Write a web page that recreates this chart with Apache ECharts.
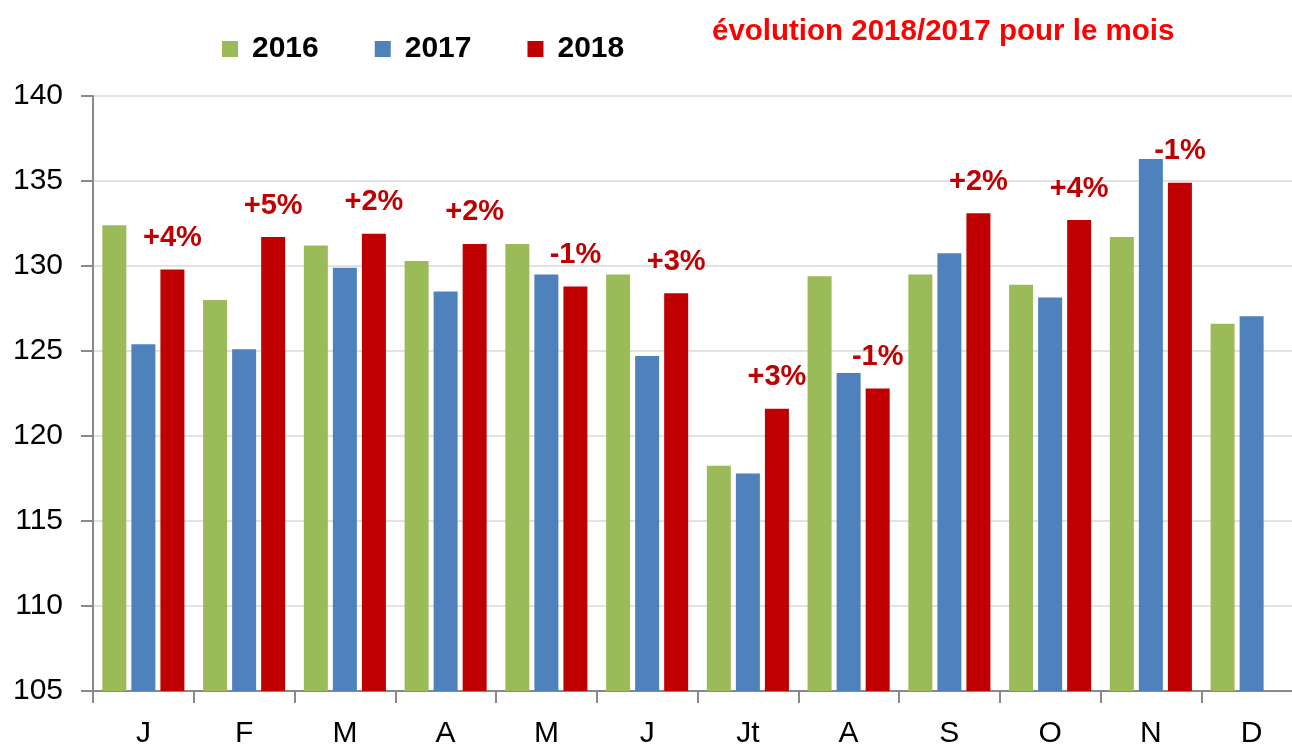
<!DOCTYPE html>
<html>
<head>
<meta charset="utf-8">
<script src="https://cdn.jsdelivr.net/npm/echarts@6/dist/echarts.min.js"></script>
<style>
html,body{margin:0;padding:0;background:#fff;overflow:hidden;}
#chart{width:1310px;height:745px;}
</style>
</head>
<body>
<div id="chart"></div>
<script>
const months = ['J','F','M','A','M','J','Jt','A','S','O','N','D'];
const seriesNames = ['2016','2017','2018'];
const v2016 = [132.4,128.0,131.2,130.3,131.3,129.5,118.25,129.4,129.5,128.9,131.7,126.6];
const v2017 = [125.4,125.1,129.9,128.5,129.5,124.7,117.8,123.7,130.75,128.15,136.3,127.05];
const v2018 = [129.8,131.7,131.9,131.3,128.8,128.4,121.6,122.8,133.1,132.7,134.9,null];
const evolutionLabels = ['+4%','+5%','+2%','+2%','-1%','+3%','+3%','-1%','+2%','+4%','-1%',''];
const yMin = 105, yMax = 140, yStep = 5;
const titleText = 'évolution 2018/2017 pour le mois';

const chart = echarts.init(document.getElementById('chart'), null, {renderer:'canvas'});
const font = '"Liberation Sans", Arial, sans-serif';
chart.setOption({
  animation: false,
  backgroundColor: '#ffffff',
  title: {
    text: titleText,
    left: 707, top: 12,
    textStyle: {color:'#ff0000', fontFamily: font, fontWeight:'bold', fontSize: 29.5}
  },
  legend: {
    left: 217, top: 29,
    itemWidth: 16, itemHeight: 16, itemGap: 56,
    icon: 'rect',
    data: seriesNames,
    textStyle: {color:'#000', fontFamily: font, fontWeight:'bold', fontSize: 30, padding:[0,0,0,9]}
  },
  grid: {left: 93, top: 96, width: 1209, height: 595, containLabel: false, outerBoundsMode: 'none'},
  xAxis: {
    type: 'category',
    data: months,
    axisLine: {show:true, lineStyle:{color:'#898989', width:2}},
    axisTick: {show:true, length:12, lineStyle:{color:'#898989', width:2}},
    axisLabel: {color:'#000', fontFamily: font, fontSize: 30, margin: 28},
    splitLine: {show:false}
  },
  yAxis: {
    type: 'value',
    min: yMin, max: yMax, interval: yStep,
    axisLine: {show:true, lineStyle:{color:'#898989', width:2}},
    axisTick: {show:true, length:12, lineStyle:{color:'#898989', width:2}},
    axisLabel: {color:'#000', fontFamily: font, fontSize: 30, margin: 30},
    splitLine: {show:true, lineStyle:{color:'#d9d9d9', width:1.5}}
  },
  series: [
    {name:'2016', type:'bar', data:v2016, barWidth:24, barGap:'21%', itemStyle:{color:'#9bbb59'}},
    {name:'2017', type:'bar', data:v2017, barWidth:24, barGap:'21%', itemStyle:{color:'#4f81bd'}},
    {name:'2018', type:'bar', data:v2018, barWidth:24, barGap:'21%', itemStyle:{color:'#c00000'},
      label:{show:true, position:'top', distance:17, color:'#c00000', fontFamily: font, fontWeight:'bold', fontSize:29,
        formatter: p => evolutionLabels[p.dataIndex]}}
  ]
});
</script>
</body>
</html>
